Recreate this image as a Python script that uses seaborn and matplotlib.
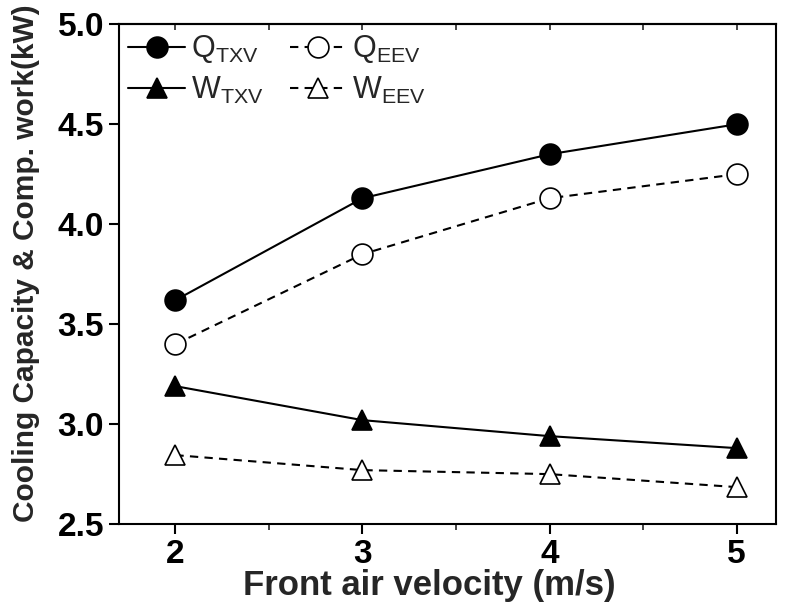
import matplotlib
matplotlib.use("Agg")
import matplotlib.pyplot as plt
import seaborn as sns
import pandas as pd
from matplotlib.ticker import MultipleLocator, FormatStrFormatter

velocity = [2, 3, 4, 5]
q_txv = [3.62, 4.13, 4.35, 4.50]
q_eev = [3.40, 3.85, 4.13, 4.25]
w_txv = [3.19, 3.02, 2.94, 2.88]
w_eev = [2.845, 2.77, 2.75, 2.685]
labels = [r"Q$_{\rm TXV}$", r"Q$_{\rm EEV}$", r"W$_{\rm TXV}$", r"W$_{\rm EEV}$"]

sns.set_theme(style="ticks")
plt.rcParams['font.family'] = ['Liberation Sans', 'DejaVu Sans']
plt.rcParams['mathtext.fontset'] = 'custom'
plt.rcParams['mathtext.rm'] = 'Liberation Sans'

fig = plt.figure(figsize=(7.95, 6.08), dpi=100)
ax = fig.add_axes([0.150, 0.138, 0.826, 0.822])

series = [
    (q_txv, labels[0], "o", "black", "-"),
    (q_eev, labels[1], "o", "white", "--"),
    (w_txv, labels[2], "^", "black", "-"),
    (w_eev, labels[3], "^", "white", "--"),
]
handles = {}
for vals, lab, mk, fc, ls in series:
    df = pd.DataFrame({"v": velocity, "y": vals})
    sns.lineplot(data=df, x="v", y="y", ax=ax, color="black", linewidth=1.5,
                 linestyle=ls, marker=mk, markersize=15, markerfacecolor=fc,
                 markeredgecolor="black", markeredgewidth=1.2, label=lab)
    line = ax.get_lines()[-1]
    if ls == "--":
        line.set_dashes((4, 3))
    handles[lab] = line

ax.set_xlim(1.70, 5.21)
ax.set_ylim(2.5, 5.0)
ax.set_xticks(velocity)
ax.xaxis.set_minor_locator(MultipleLocator(0.5))
ax.yaxis.set_major_locator(MultipleLocator(0.5))
ax.yaxis.set_major_formatter(FormatStrFormatter("%.1f"))
for s in ax.spines.values():
    s.set_linewidth(1.5)
    s.set_color("black")
ax.tick_params(axis="both", which="major", direction="out", length=7, width=1.5,
               labelsize=24, colors="black", pad=4)
ax.tick_params(axis="x", which="minor", direction="out", length=4, width=1.2)
for lab in ax.get_xticklabels() + ax.get_yticklabels():
    lab.set_fontweight("bold")

top = ax.secondary_xaxis("top")
top.set_xticks(velocity)
top.xaxis.set_minor_locator(MultipleLocator(0.5))
top.tick_params(axis="x", which="both", direction="in", length=4, width=1.2,
                labeltop=False)
top.spines["top"].set_linewidth(1.5)

ax.set_xlabel("Front air velocity (m/s)", fontsize=25, fontweight="bold")
ax.set_ylabel("Cooling Capacity & Comp. work(kW)", fontsize=21.5, fontweight="bold")
ax.xaxis.set_label_coords(0.472, -0.09)
ax.yaxis.set_label_coords(-0.12, 0.522)

order = [labels[0], labels[2], labels[1], labels[3]]
ax.legend([handles[l] for l in order], order, ncol=2, frameon=False, loc="upper left",
          fontsize=22, handlelength=1.85, columnspacing=0.85, handletextpad=0.2,
          labelspacing=0.3, borderaxespad=0.0, borderpad=0.3)

fig.savefig("out.png", dpi=100)
